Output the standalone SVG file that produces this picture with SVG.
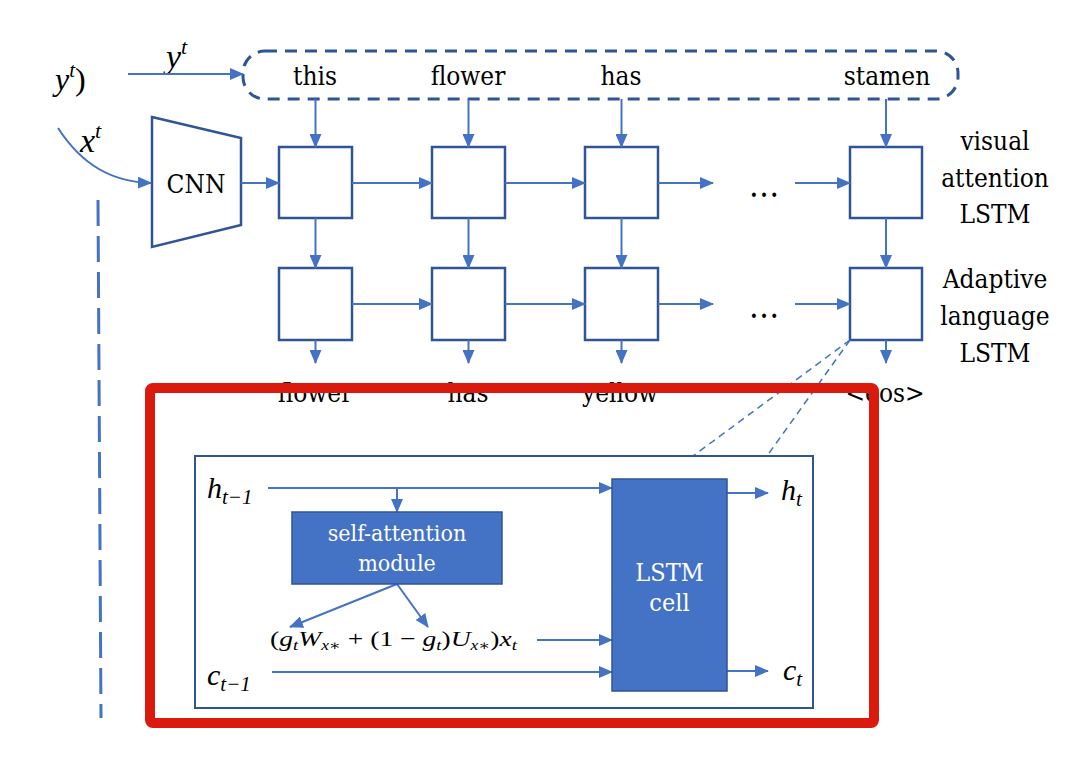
<svg xmlns="http://www.w3.org/2000/svg" width="1087" height="778" viewBox="0 0 1087 778">
<defs>
<marker id="ah" markerUnits="userSpaceOnUse" markerWidth="14" markerHeight="12" refX="13" refY="6" orient="auto">
<path d="M0,0 L14,6 L0,12 Z" fill="#4472C4"/>
</marker>
<style>
.t{font-family:'DejaVu Serif',serif;font-stretch:condensed;fill:#000;}
.m{font-family:'Liberation Serif','DejaVu Serif',serif;font-style:italic;fill:#000;}
.w{font-family:'DejaVu Serif',serif;font-stretch:condensed;fill:#fff;}
.box{fill:#fff;stroke:#2F5597;stroke-width:2.5;}
.fbox{fill:#4472C4;stroke:#2F5597;stroke-width:1.5;}
.ar{fill:none;stroke:#4472C4;stroke-width:2;marker-end:url(#ah);}
.dl{fill:none;stroke:#4472C4;stroke-width:1.5;stroke-dasharray:7 5;}
</style>
</defs>
<rect width="1087" height="778" fill="#fff"/>

<text class="m" x="55" y="90" font-size="32">y<tspan font-size="21" dy="-13">t</tspan><tspan font-style="normal" dy="13">)</tspan></text>
<text class="m" x="166" y="68" font-size="34">y<tspan font-size="22" dy="-14">t</tspan></text>
<text class="m" x="80" y="152" font-size="34">x<tspan font-size="22" dy="-14">t</tspan></text>

<g id="input-sequence">
<rect x="243" y="51" width="715" height="48" rx="22" fill="none" stroke="#2F5597" stroke-width="3" stroke-dasharray="12 8"/>
<text class="t" font-size="26" x="315" y="85" text-anchor="middle">this</text>
<text class="t" font-size="26" x="468" y="85" text-anchor="middle">flower</text>
<text class="t" font-size="26" x="621" y="85" text-anchor="middle">has</text>
<text class="t" font-size="26" x="887" y="85" text-anchor="middle">stamen</text>
</g>

<g id="cnn">
<path d="M152,117 L241,138 L241,225 L152,247 Z" class="box"/>
<text class="t" font-size="26" x="196" y="193" text-anchor="middle">CNN</text>
</g>

<g id="va1"><rect class="box" x="279" y="147" width="73" height="71"/></g>
<g id="va2"><rect class="box" x="432" y="147" width="73" height="71"/></g>
<g id="va3"><rect class="box" x="585" y="147" width="73" height="71"/></g>
<g id="va4"><rect class="box" x="850" y="147" width="72" height="71"/></g>
<g id="al1"><rect class="box" x="279" y="268" width="73" height="72"/></g>
<g id="al2"><rect class="box" x="432" y="268" width="73" height="72"/></g>
<g id="al3"><rect class="box" x="585" y="268" width="73" height="72"/></g>
<g id="al4"><rect class="box" x="850" y="268" width="72" height="72"/></g>

<text class="t" font-size="34" x="764" y="197" text-anchor="middle">…</text>
<text class="t" font-size="34" x="764" y="318" text-anchor="middle">…</text>

<g id="row-labels">
<text class="t" font-size="26" x="995" y="150" text-anchor="middle">visual</text>
<text class="t" font-size="26" x="995" y="187" text-anchor="middle">attention</text>
<text class="t" font-size="26" x="995" y="223" text-anchor="middle">LSTM</text>
<text class="t" font-size="26" x="995" y="288" text-anchor="middle">Adaptive</text>
<text class="t" font-size="26" x="995" y="325" text-anchor="middle">language</text>
<text class="t" font-size="26" x="995" y="362" text-anchor="middle">LSTM</text>
</g>

<g id="outputs">
<text class="t" font-size="26" x="315" y="402" text-anchor="middle">flower</text>
<text class="t" font-size="26" x="468" y="402" text-anchor="middle">has</text>
<text class="t" font-size="26" x="620" y="402" text-anchor="middle">yellow</text>
<text class="t" font-size="26" x="885" y="402" text-anchor="middle">&lt;eos&gt;</text>
</g>

<g id="connectors">
<line class="ar" x1="128" y1="74" x2="243" y2="74"/>
<path class="ar" d="M58,128 C82,165 112,182 151,183"/>
<line class="dl" x1="98" y1="200" x2="101" y2="718" style="stroke-width:3;stroke-dasharray:26 10"/>
<line class="ar" x1="241" y1="183" x2="279" y2="183"/>
<line class="ar" x1="352" y1="183" x2="432" y2="183"/>
<line class="ar" x1="505" y1="183" x2="585" y2="183"/>
<line class="ar" x1="658" y1="183" x2="713" y2="183"/>
<line class="ar" x1="795" y1="183" x2="850" y2="183"/>
<line class="ar" x1="352" y1="304" x2="432" y2="304"/>
<line class="ar" x1="505" y1="304" x2="585" y2="304"/>
<line class="ar" x1="658" y1="304" x2="713" y2="304"/>
<line class="ar" x1="795" y1="304" x2="850" y2="304"/>
<line class="ar" x1="315.5" y1="99" x2="315.5" y2="147"/>
<line class="ar" x1="468.5" y1="99" x2="468.5" y2="147"/>
<line class="ar" x1="621.5" y1="99" x2="621.5" y2="147"/>
<line class="ar" x1="886" y1="99" x2="886" y2="147"/>
<line class="ar" x1="315.5" y1="218" x2="315.5" y2="268"/>
<line class="ar" x1="468.5" y1="218" x2="468.5" y2="268"/>
<line class="ar" x1="621.5" y1="218" x2="621.5" y2="268"/>
<line class="ar" x1="886" y1="218" x2="886" y2="268"/>
<line class="ar" x1="315.5" y1="340" x2="315.5" y2="363"/>
<line class="ar" x1="468.5" y1="340" x2="468.5" y2="363"/>
<line class="ar" x1="621.5" y1="340" x2="621.5" y2="363"/>
<line class="ar" x1="886" y1="340" x2="886" y2="363"/>
<line class="dl" x1="850" y1="340" x2="693" y2="456"/>
<line class="dl" x1="850" y1="340" x2="767" y2="456"/>
<line class="ar" x1="268" y1="488" x2="612" y2="488"/>
<line class="ar" x1="397" y1="488" x2="397" y2="512"/>
<line class="ar" x1="397" y1="584" x2="290" y2="627"/>
<line class="ar" x1="397" y1="584" x2="428" y2="627"/>
<line class="ar" x1="537" y1="640" x2="612" y2="640"/>
<line class="ar" x1="272" y1="672" x2="612" y2="672"/>
<line class="ar" x1="727" y1="493" x2="768" y2="493"/>
<line class="ar" x1="727" y1="671" x2="768" y2="671"/>
</g>

<g id="detail">
<rect x="195" y="456" width="618" height="252" fill="none" stroke="#2F5597" stroke-width="2"/>
</g>
<g id="self-attention">
<rect class="fbox" x="292" y="512" width="210" height="72"/>
<text class="w" font-size="23" x="397" y="541" text-anchor="middle">self-attention</text>
<text class="w" font-size="23" x="397" y="571" text-anchor="middle">module</text>
</g>
<g id="lstm-cell">
<rect class="fbox" x="612" y="479" width="115" height="212"/>
<text class="w" font-size="25" x="669.5" y="581" text-anchor="middle">LSTM</text>
<text class="w" font-size="25" x="669.5" y="611" text-anchor="middle">cell</text>
</g>
<g id="detail-labels">
<text class="m" x="207" y="498" font-size="30">h<tspan font-size="21" dy="6">t−1</tspan></text>
<text class="m" x="207" y="685" font-size="30">c<tspan font-size="21" dy="6">t−1</tspan></text>
<text class="m" x="781" y="500" font-size="30">h<tspan font-size="21" dy="6">t</tspan></text>
<text class="m" x="783" y="680" font-size="30">c<tspan font-size="21" dy="6">t</tspan></text>
<text class="m" x="270" y="646" font-size="22" textLength="247" lengthAdjust="spacingAndGlyphs"><tspan font-style="normal">(</tspan>g<tspan font-size="15" dy="4">t</tspan><tspan dy="-4">W</tspan><tspan font-size="14" dy="4">x∗</tspan><tspan font-style="normal" dy="-4"> + (1 − </tspan>g<tspan font-size="15" dy="4">t</tspan><tspan font-style="normal" dy="-4">)</tspan>U<tspan font-size="14" dy="4">x∗</tspan><tspan font-style="normal" dy="-4">)</tspan>x<tspan font-size="15" dy="4">t</tspan></text>
</g>

<g id="highlight">
<rect x="150" y="388" width="724" height="335" rx="3" fill="none" stroke="#D91A0C" stroke-width="10"/>
</g>
</svg>
